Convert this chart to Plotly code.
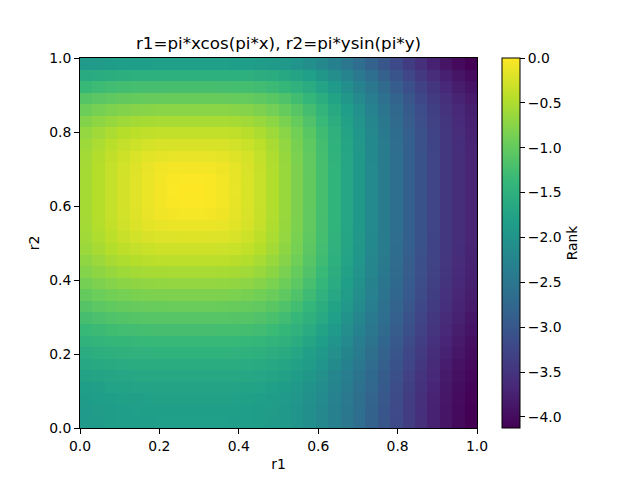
import numpy as np
import plotly.graph_objects as go

# grid coordinates (cell index -> position), 32 x 32 cells over [0,1]
n_cells = 32
# r1 value per column (x), read/estimated
r1_cols = [0.0, 0.1008, 0.1985, 0.2901, 0.3725, 0.4430, 0.4991, 0.5383,
           0.5586, 0.5583, 0.5361, 0.4909, 0.4224, 0.3302, 0.2149, 0.0770,
           -0.0821, -0.2609, -0.4572, -0.6687, -0.8926, -1.1257, -1.3647, -1.6059,
           -1.8454, -2.0794, -2.3038, -2.5145, -2.7074, -2.8788, -3.0247, -3.1416]
# r2 value per row (y, bottom to top), read/estimated
r2_rows = [0.0, 0.0103, 0.0408, 0.0910, 0.1599, 0.2459, 0.3474, 0.4621,
           0.5876, 0.7213, 0.8600, 1.0008, 1.1404, 1.2754, 1.4024, 1.5182,
           1.6194, 1.7030, 1.7659, 1.8056, 1.8197, 1.8061, 1.7630, 1.6894,
           1.5843, 1.4473, 1.2787, 1.0791, 0.8495, 0.5916, 0.3076, 0.0]

title_text = "r1=pi*xcos(pi*x), r2=pi*ysin(pi*y)"
cbar_ticks = [0.0, -0.5, -1.0, -1.5, -2.0, -2.5, -3.0, -3.5, -4.0]
cbar_labels = ["0.0", "\u22120.5", "\u22121.0", "\u22121.5", "\u22122.0",
               "\u22122.5", "\u22123.0", "\u22123.5", "\u22124.0"]
axis_ticks = [0.0, 0.2, 0.4, 0.6, 0.8, 1.0]

# rank table: negative distance to the ideal (best r1, best r2) point
r1 = np.array(r1_cols)
r2 = np.array(r2_rows)
rank = -np.hypot(r1[None, :] - r1.max(), r2[:, None] - r2.max())

# the page body has an 8px margin; compensate so the figure lands like the reference
W, H = 632, 472
off = 8

font = "DejaVu Sans"
fig = go.Figure(go.Heatmap(
    z=rank,
    x0=0.5 / n_cells, dx=1.0 / n_cells,
    y0=0.5 / n_cells, dy=1.0 / n_cells,
    colorscale="Viridis",
    colorbar=dict(
        thickness=18, thicknessmode="pixels",
        len=370, lenmode="pixels",
        x=(502 - 80) / 397, xanchor="left", xpad=0,
        y=0.5, yanchor="middle", ypad=0,
        outlinewidth=1, outlinecolor="black",
        ticks="outside", ticklen=5, tickcolor="black",
        tickvals=cbar_ticks, ticktext=cbar_labels,
        tickfont=dict(family=font, size=13.9, color="black"),
        title=dict(text="Rank", side="right",
                   font=dict(family=font, size=13.9, color="black")),
    ),
))

axis_common = dict(
    range=[0, 1], tickvals=axis_ticks, tickformat=".1f",
    ticks="outside", ticklen=5, tickcolor="black", tickwidth=1,
    showline=True, linecolor="black", linewidth=1, mirror=True,
    showgrid=False, zeroline=False,
    tickfont=dict(family=font, size=13.9, color="black"),
)
fig.update_xaxes(**axis_common, title=dict(text="r1", standoff=6,
                 font=dict(family=font, size=13.9, color="black")))
fig.update_yaxes(**axis_common, title=dict(text="r2", standoff=6,
                 font=dict(family=font, size=13.9, color="black")))

fig.update_layout(
    width=W, height=H,
    margin=dict(l=80 - off, r=163, t=58 - off, b=52, pad=0),
    paper_bgcolor="white", plot_bgcolor="white",
    title=dict(text=title_text, x=(278.5 - off) / W, xanchor="center",
               y=1 - (43 - off) / H, yanchor="middle",
               font=dict(family=font, size=16.7, color="black")),
    font=dict(family=font, color="black"),
)

fig.write_html("out.html")
